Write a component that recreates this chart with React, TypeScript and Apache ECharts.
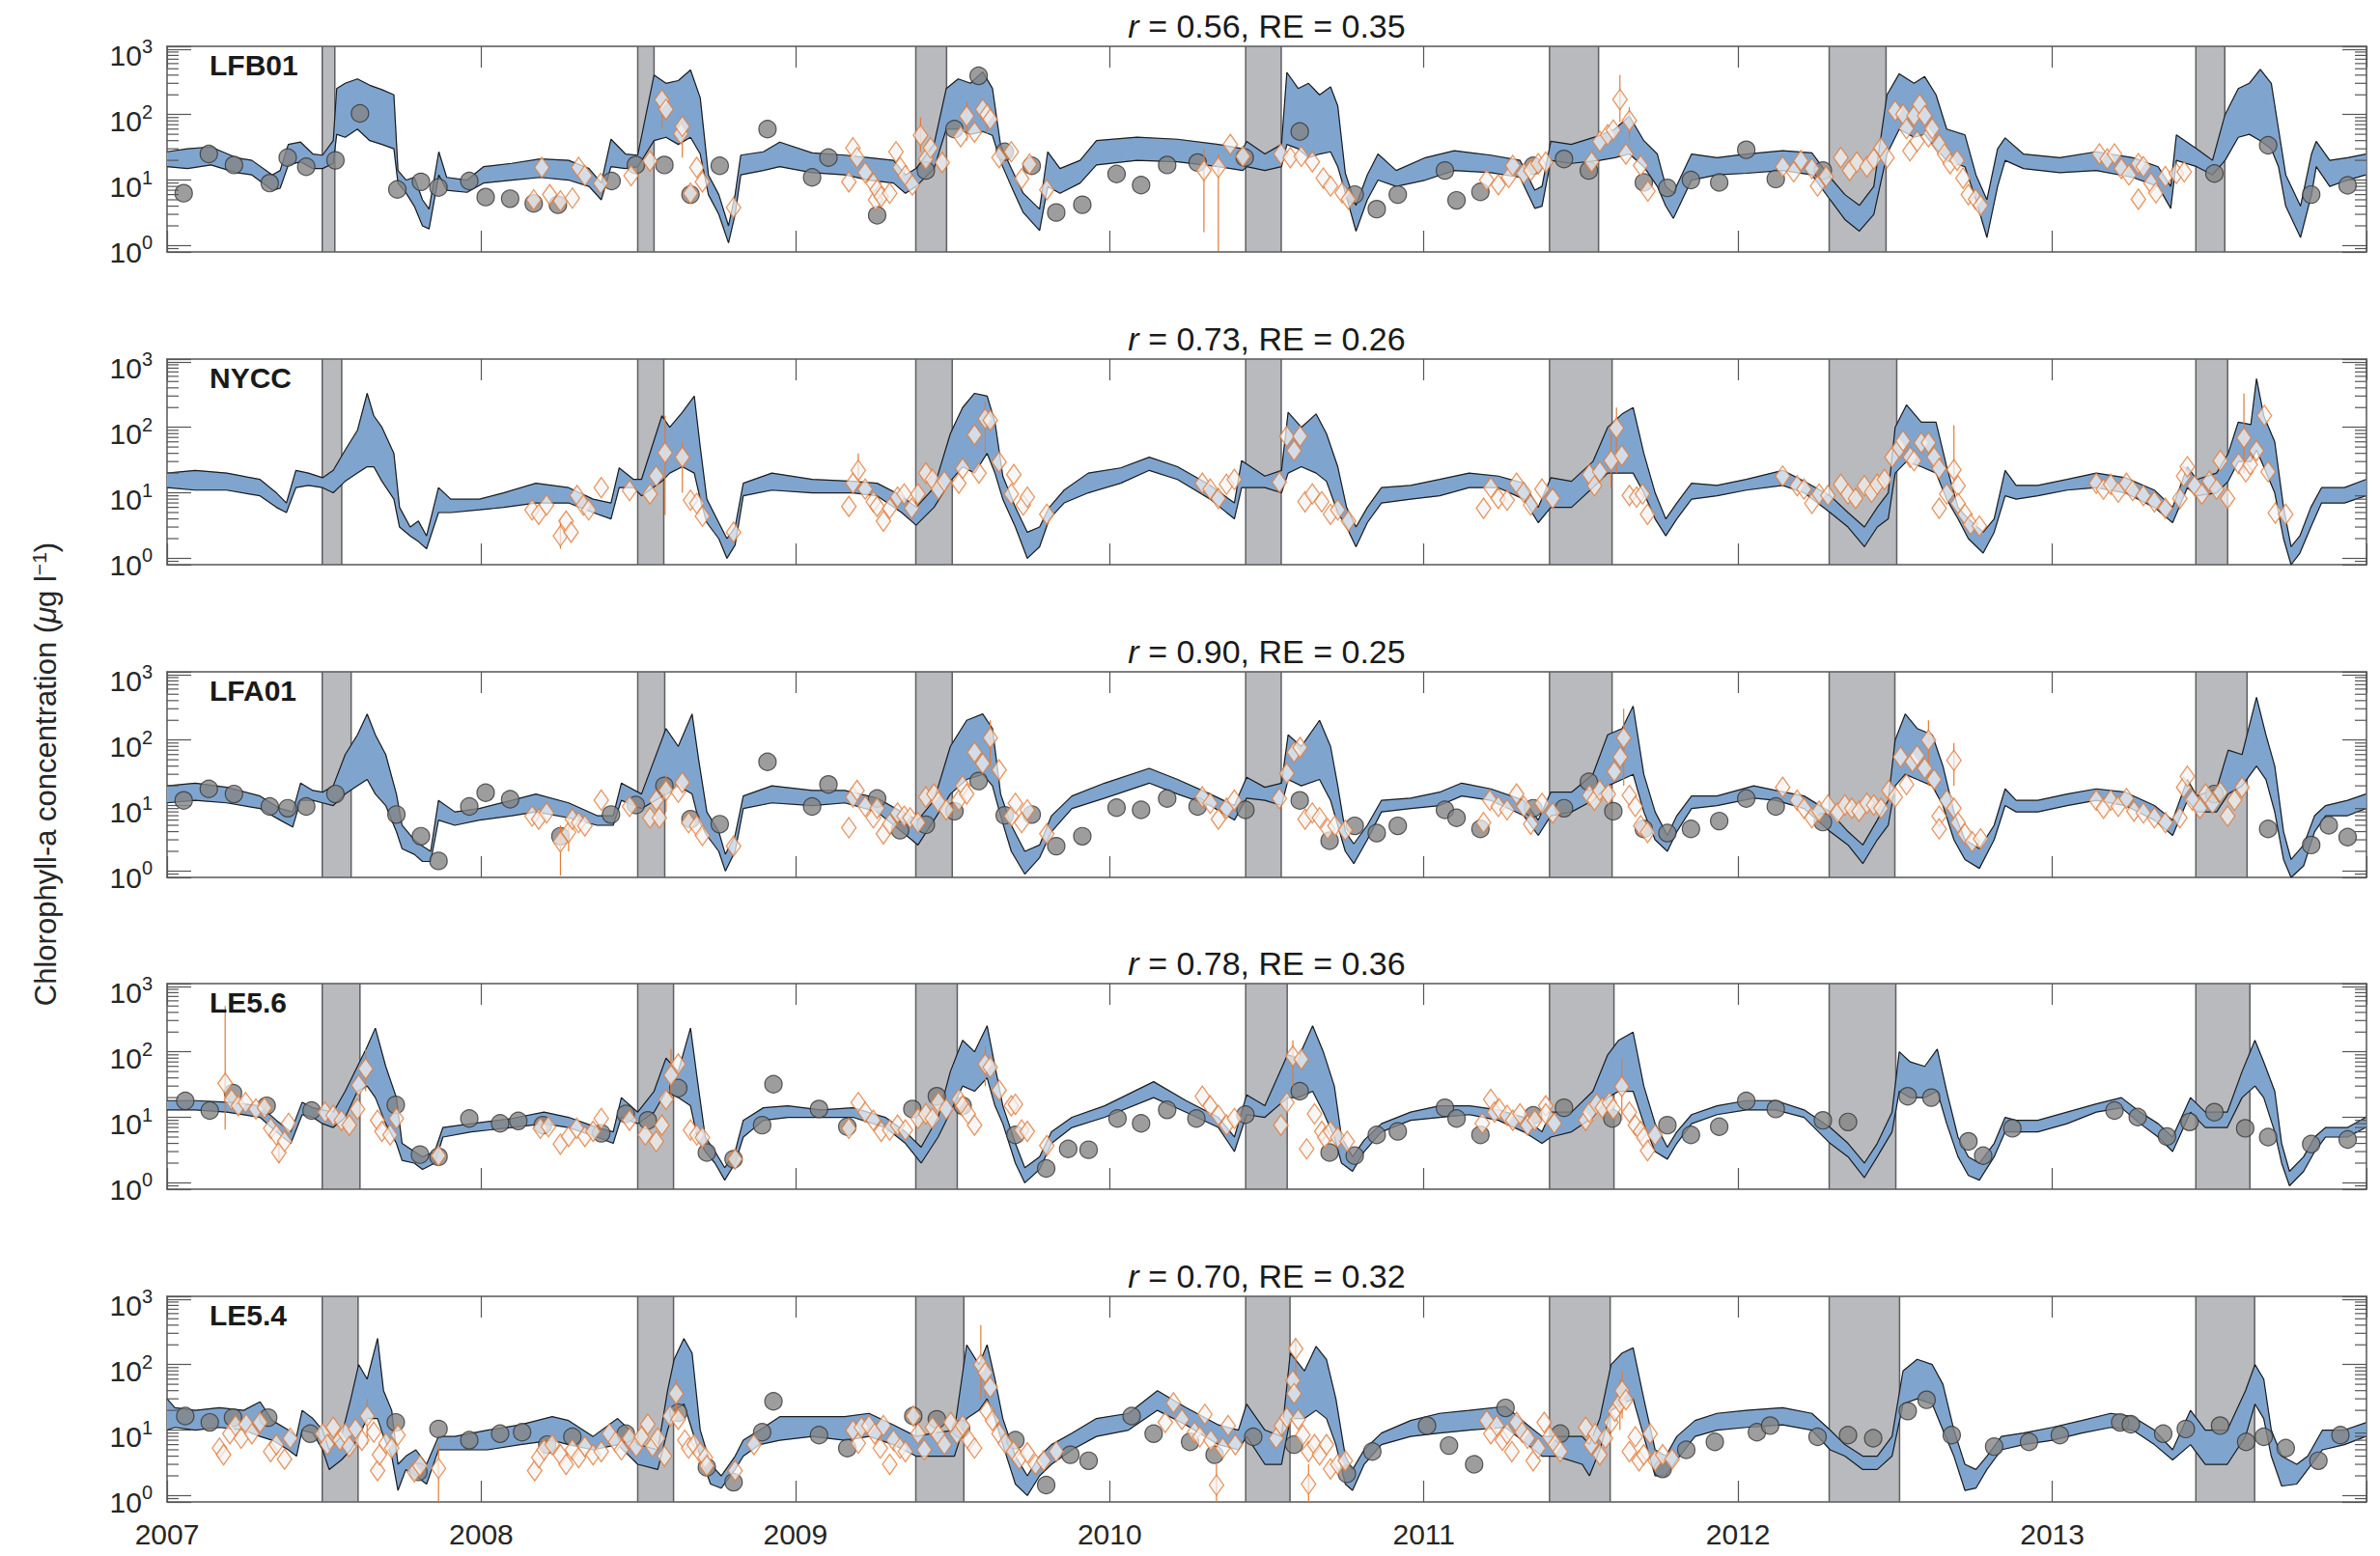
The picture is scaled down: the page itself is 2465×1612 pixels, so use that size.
import React, { useEffect, useRef } from 'react';
import * as echarts from 'echarts';

// ---------------- data ----------------
const YEAR_LABELS = [2007, 2008, 2009, 2010, 2011, 2012, 2013];
const MINOR_TICKS = [0.9, 2, 3, 4, 5, 6, 7, 8, 9, 20, 30, 40, 50, 60, 70, 80, 90, 200, 300, 400, 500, 600, 700, 800, 900];
const STATIONS = ['LFB01', 'NYCC', 'LFA01', 'LE5.6', 'LE5.4'];
const R_VALUES = ['0.56', '0.73', '0.90', '0.78', '0.70'];
const RE_VALUES = ['0.35', '0.26', '0.25', '0.36', '0.32'];

// shaded periods (decimal years)
const SHADE_START = [2007.494, 2008.498, 2009.383, 2010.433, 2011.4, 2012.29, 2013.457];
const SHADE_END_LFB01 = [2007.534, 2008.55, 2009.481, 2010.546, 2011.556, 2012.471, 2013.549];
const SHADE_END_NYCC = [2007.556, 2008.581, 2009.499, 2010.546, 2011.599, 2012.505, 2013.558];
const SHADE_END_LFA01 = [2007.586, 2008.584, 2009.499, 2010.546, 2011.599, 2012.499, 2013.62];
const SHADE_END_LE56 = [2007.614, 2008.612, 2009.515, 2010.565, 2011.605, 2012.502, 2013.629];
const SHADE_END_LE54 = [2007.608, 2008.612, 2009.536, 2010.574, 2011.593, 2012.514, 2013.644];

// model envelope [year, lower, upper]
const LFB01_BAND = [[2007.00,16,27],[2007.065,15,30],[2007.14,17,32],[2007.22,13,22],[2007.27,12,20],[2007.335,7,12],[2007.36,7.5,14],[2007.386,17,35],[2007.425,19,38],[2007.464,15,25],[2007.495,15,24],[2007.529,18,40],[2007.54,50,250],[2007.567,45,300],[2007.606,60,350],[2007.645,40,280],[2007.684,35,240],[2007.722,30,200],[2007.735,9,14],[2007.761,6.3,10],[2007.787,4,11],[2007.813,2,5],[2007.834,1.8,3.6],[2007.865,12,27],[2007.89,7,11],[2007.955,6.5,10],[2008.007,9,16],[2008.097,10,18],[2008.188,11,21],[2008.278,10,20],[2008.343,8,15],[2008.382,5,9],[2008.413,16,42],[2008.459,15,25],[2008.498,16,24],[2008.55,40,400],[2008.588,45,300],[2008.627,35,330],[2008.666,45,480],[2008.697,25,180],[2008.723,6,12],[2008.756,3,6],[2008.787,1.1,2],[2008.808,3,6],[2008.826,12,24],[2008.898,14,27],[2008.95,16,38],[2009.053,13,26],[2009.157,12,24],[2009.234,10,22],[2009.312,9,20],[2009.35,6.3,12],[2009.384,8,15],[2009.441,15,35],[2009.48,60,250],[2009.518,60,350],[2009.557,50,300],[2009.596,55,450],[2009.627,48,250],[2009.653,19,34],[2009.687,8,15],[2009.725,3.2,6.3],[2009.777,1.7,3.6],[2009.803,8,27],[2009.842,6.3,15],[2009.906,9,20],[2009.958,17,40],[2010.087,20,45],[2010.216,19,42],[2010.346,16,35],[2010.424,14,30],[2010.436,16,39],[2010.494,14,25],[2010.547,16,35],[2010.564,35,440],[2010.6,30,250],[2010.633,22,300],[2010.668,25,200],[2010.703,27,265],[2010.726,16,135],[2010.75,6.4,12.7],[2010.784,1.66,4.1],[2010.82,5,12],[2010.854,10,25],[2010.912,8,14],[2011.005,10,22],[2011.097,14,28],[2011.213,13,24],[2011.306,11,20],[2011.353,3.7,7],[2011.376,4,8],[2011.404,20,39],[2011.469,18,35],[2011.56,20,48],[2011.608,22,60],[2011.654,25,95],[2011.70,16,40],[2011.743,8,25],[2011.77,4,8],[2011.794,2.6,6.4],[2011.852,10,25],[2011.933,12,22],[2012.026,12.7,25],[2012.142,14,28],[2012.235,12,26],[2012.293,5,11],[2012.34,2.5,6],[2012.386,1.66,4.1],[2012.432,3,8],[2012.474,25,200],[2012.513,60,420],[2012.56,45,300],[2012.594,50,380],[2012.63,30,200],[2012.664,20,60],[2012.722,16,49],[2012.757,5,12],[2012.792,1.33,5],[2012.826,8,30],[2012.85,20,44],[2012.908,15,25],[2013.024,13,22],[2013.14,14,27],[2013.256,11,22],[2013.337,8,16],[2013.377,3.7,8],[2013.395,20,49],[2013.46,16,30],[2013.51,12,20],[2013.55,20,100],[2013.592,45,250],[2013.627,50,300],[2013.662,40,490],[2013.697,30,300],[2013.72,16,60],[2013.743,4,12],[2013.79,1.33,4],[2013.825,6,25],[2013.84,16,39],[2013.883,8,20],[2013.94,10,22],[2013.998,12,25]];
const NYCC_BAND = [[2007.0,12,20],[2007.09,11,22],[2007.19,11,20],[2007.296,9,16],[2007.348,6,10],[2007.38,5,7],[2007.41,12,22],[2007.45,13,20],[2007.495,12,17],[2007.529,10,22],[2007.567,15,45],[2007.606,20,90],[2007.637,25,330],[2007.658,25,150],[2007.684,15,100],[2007.722,8,40],[2007.74,3,6],[2007.774,2.2,3],[2007.8,1.8,3.7],[2007.826,1.4,2.2],[2007.864,5,12],[2007.903,5,8],[2007.994,5.5,8],[2008.071,6,10],[2008.174,7,14],[2008.278,7,12],[2008.356,5,8],[2008.413,4,7],[2008.439,12,24],[2008.485,12,16],[2008.51,9,16],[2008.575,15,150],[2008.6,20,100],[2008.64,25,170],[2008.678,20,300],[2008.697,8,50],[2008.718,3.5,8],[2008.756,2,3.5],[2008.782,1.0,2],[2008.808,1.6,3],[2008.834,9,14],[2008.925,11,20],[2009.054,10,16],[2009.183,10,15],[2009.26,9,14],[2009.338,5,9],[2009.384,3.2,6],[2009.441,6,12],[2009.493,15,80],[2009.532,25,200],[2009.57,20,330],[2009.61,40,300],[2009.635,20,120],[2009.66,8,18],[2009.70,3,6],[2009.738,1.0,2.5],[2009.777,1.5,3],[2009.808,4,6],[2009.855,7,11],[2009.932,10,20],[2010.035,14,24],[2010.126,22,35],[2010.216,16,25],[2010.32,8,13],[2010.397,4,7],[2010.42,12,31],[2010.494,12,18],[2010.547,10,22],[2010.568,20,170],[2010.61,25,100],[2010.657,20,160],[2010.69,15,80],[2010.726,5,25],[2010.754,3,6],[2010.784,1.5,3],[2010.82,3.5,6],[2010.865,7,12],[2010.958,8,13],[2011.05,9,16],[2011.144,12,20],[2011.237,12,18],[2011.318,8,14],[2011.364,3.5,6],[2011.404,6,17],[2011.47,6,15],[2011.538,12,30],[2011.585,20,100],[2011.631,20,160],[2011.666,20,200],[2011.70,10,40],[2011.736,4,10],[2011.77,2.2,4],[2011.805,4,7],[2011.852,8,14],[2011.933,9,13],[2012.026,11,16],[2012.142,13,22],[2012.21,10,15],[2012.293,5,9],[2012.35,3,5],[2012.402,1.5,3],[2012.443,3,6],[2012.478,4,10],[2012.50,20,100],[2012.536,30,220],[2012.583,25,120],[2012.63,20,120],[2012.664,8,25],[2012.70,4,6],[2012.733,2,4],[2012.78,1.2,2.5],[2012.815,2.5,4],[2012.85,9,22],[2012.885,8,13],[2012.954,9,13],[2013.047,11,16],[2013.14,12,20],[2013.232,10,17],[2013.325,6,11],[2013.383,3.5,6],[2013.43,12,25],[2013.46,9,16],[2013.523,10,20],[2013.56,15,40],[2013.592,30,120],[2013.632,30,110],[2013.65,45,550],[2013.673,25,150],[2013.708,10,60],[2013.736,2,6],[2013.76,0.8,1.5],[2013.788,1.2,2.2],[2013.823,3,6],[2013.857,7,12],[2013.93,7,12],[2013.998,9,16]];
const LFA01_BAND = [[2007.0,11,20],[2007.09,12,22],[2007.19,11,19],[2007.296,9,14],[2007.36,6,9],[2007.40,4.7,8],[2007.425,12,22],[2007.464,12,17],[2007.495,11,16],[2007.529,10,20],[2007.567,15,60],[2007.606,20,120],[2007.637,25,250],[2007.663,15,120],[2007.696,10,60],[2007.73,4,15],[2007.748,2.2,5],[2007.787,1.8,3],[2007.813,1.4,2.4],[2007.839,1.4,2.0],[2007.864,6,12],[2007.916,5,8],[2007.994,6,9],[2008.097,7,12],[2008.174,8,15],[2008.278,6.5,11],[2008.369,5,7],[2008.42,5,7],[2008.446,12,22],[2008.51,9,15],[2008.588,15,150],[2008.627,20,80],[2008.671,15,250],[2008.692,6,50],[2008.718,3.5,8],[2008.756,2,4],[2008.777,1.0,1.8],[2008.808,2,3.5],[2008.834,9,14],[2008.925,11,20],[2009.054,10,17],[2009.157,11,17],[2009.26,8,13],[2009.338,4,8],[2009.39,2.5,6],[2009.441,6,12],[2009.493,15,80],[2009.545,25,200],[2009.596,30,250],[2009.627,20,150],[2009.653,7,15],[2009.687,2,5],[2009.73,0.9,2],[2009.777,1.6,2.5],[2009.815,4,7],[2009.88,9,14],[2009.984,13,22],[2010.126,22,37],[2010.216,15,25],[2010.32,10,15],[2010.397,6,10],[2010.436,13,27],[2010.494,12,19],[2010.547,10,22],[2010.568,25,120],[2010.61,20,80],[2010.668,25,200],[2010.703,12,80],[2010.726,5,20],[2010.75,2,4],[2010.777,1.3,2.6],[2010.82,3,5],[2010.865,8,12],[2010.958,9,13],[2011.05,10,16],[2011.12,14,22],[2011.213,12,18],[2011.318,7,12],[2011.364,3.5,6],[2011.404,7,16],[2011.47,8,16],[2011.538,12,30],[2011.585,20,120],[2011.631,25,150],[2011.666,30,330],[2011.70,8,30],[2011.736,3,8],[2011.775,2.0,3.5],[2011.805,4,7],[2011.852,9,14],[2011.933,10,14],[2012.05,13,20],[2012.12,12,17],[2012.21,9,14],[2012.293,4,8],[2012.35,2.5,4],[2012.397,1.3,2.5],[2012.443,3,6],[2012.478,5,12],[2012.50,20,100],[2012.532,30,250],[2012.57,25,150],[2012.618,20,120],[2012.652,10,40],[2012.687,3,8],[2012.722,1.5,3],[2012.768,1.1,2.2],[2012.815,3,5],[2012.85,10,18],[2012.885,8,12],[2012.954,8,12],[2013.047,10,15],[2013.14,12,18],[2013.232,10,16],[2013.325,6,10],[2013.383,3.5,6],[2013.43,12,25],[2013.46,8,14],[2013.523,8,18],[2013.56,15,70],[2013.604,20,60],[2013.65,40,450],[2013.68,25,120],[2013.708,8,40],[2013.736,1.5,4],[2013.76,0.8,1.5],[2013.80,1.2,2.5],[2013.835,4,7],[2013.87,7,10],[2013.94,7,12],[2013.998,9,15]];
const LE56_BAND = [[2007.0,13,18],[2007.09,13,18],[2007.19,12,17],[2007.296,10,15],[2007.348,6,9],[2007.394,4,6],[2007.43,11,17],[2007.464,10,14],[2007.495,8,13],[2007.529,7,12],[2007.567,10,25],[2007.606,25,60],[2007.637,30,120],[2007.663,20,230],[2007.696,8,60],[2007.73,4,20],[2007.748,2.2,4],[2007.787,2,3],[2007.813,1.6,2.5],[2007.852,2,3],[2007.878,5,7],[2007.968,6,8],[2008.097,7,9.6],[2008.20,8,12],[2008.278,7,10],[2008.369,5,7],[2008.42,4,6],[2008.446,10,20],[2008.498,8,12],[2008.55,12,25],[2008.588,25,80],[2008.627,20,50],[2008.666,15,230],[2008.687,5,40],[2008.713,3,5],[2008.744,2,3],[2008.775,1.1,1.7],[2008.808,2,3],[2008.834,5,9],[2008.898,9,14],[2008.976,10,15],[2009.08,10,13],[2009.183,10,14],[2009.286,7,10],[2009.35,4,6],[2009.40,2,3.5],[2009.454,5,10],[2009.493,12,50],[2009.532,30,150],[2009.57,25,100],[2009.61,40,250],[2009.635,15,60],[2009.66,8,15],[2009.70,2,4],[2009.73,1.0,1.7],[2009.777,1.6,2.5],[2009.815,4,6],[2009.88,7,10],[2009.984,10,15],[2010.14,20,35],[2010.243,12,18],[2010.346,7,10],[2010.397,3,5],[2010.436,11,22],[2010.494,10,15],[2010.566,20,90],[2010.60,20,80],[2010.646,25,250],[2010.68,12,100],[2010.715,5,30],[2010.738,2,5],[2010.773,1.5,2.5],[2010.81,3,4.5],[2010.865,6,8],[2010.958,9,12],[2011.05,10,15],[2011.144,11,15],[2011.237,9,13],[2011.318,6,10],[2011.376,4,6],[2011.404,5,12],[2011.47,6,12],[2011.538,10,25],[2011.585,20,90],[2011.62,25,150],[2011.666,25,200],[2011.70,8,30],[2011.736,3,8],[2011.775,2.3,3.5],[2011.805,4,6],[2011.852,8,11],[2011.933,11,15],[2012.026,13,18],[2012.12,13,18],[2012.21,10,13],[2012.293,4,7],[2012.35,2.5,4],[2012.402,1.2,2],[2012.443,2.5,4],[2012.49,6,12],[2012.513,25,100],[2012.548,20,70],[2012.594,20,60],[2012.634,25,110],[2012.664,8,25],[2012.70,2.5,5],[2012.733,1.3,2.5],[2012.768,1.1,2],[2012.815,2.5,4],[2012.85,6,10],[2012.885,6,9],[2012.954,6,9],[2013.047,8,12],[2013.14,12,16],[2013.22,14,20],[2013.28,8,12],[2013.337,5,8],[2013.383,3,5],[2013.44,12,20],[2013.487,7,12],[2013.557,7,12],[2013.604,20,50],[2013.645,30,150],[2013.673,20,70],[2013.708,6,25],[2013.73,2,4],[2013.755,0.9,1.5],[2013.80,1.5,2.5],[2013.835,3,5],[2013.87,5,7],[2013.94,5,7],[2013.998,7,10]];
const LE54_BAND = [[2007.0,10,30],[2007.025,11,22],[2007.09,10,20],[2007.167,11,22],[2007.244,10,20],[2007.296,8,27],[2007.335,7,14],[2007.386,5,10],[2007.412,4,8],[2007.43,10,20],[2007.464,9,15],[2007.495,5,10],[2007.516,2.5,5],[2007.555,3.5,8],[2007.585,5,30],[2007.61,8,100],[2007.637,15,60],[2007.67,15,250],[2007.689,8,40],[2007.715,4,20],[2007.735,1.2,3],[2007.76,2.5,4],[2007.792,2,5],[2007.826,1.5,3],[2007.864,5,8],[2007.916,5,8],[2008.02,5,10],[2008.124,6,12],[2008.226,7,16],[2008.278,6,14],[2008.356,5,8],[2008.434,6,15],[2008.472,4,10],[2008.498,3,6],[2008.562,2.5,5],[2008.593,10,40],[2008.614,20,120],[2008.645,25,250],[2008.671,10,150],[2008.697,4,10],[2008.73,1.5,3],[2008.764,1.3,2],[2008.808,2.5,4],[2008.834,4,7],[2008.886,6,10],[2008.95,7,16],[2009.054,8,16],[2009.157,7,16],[2009.234,8,18],[2009.312,6,12],[2009.384,4,8],[2009.441,4,9],[2009.506,4,10],[2009.545,15,200],[2009.584,20,100],[2009.61,30,200],[2009.635,15,60],[2009.66,6,15],[2009.70,1.5,4],[2009.738,1.0,2],[2009.777,2,4],[2009.815,3,6],[2009.88,5,9],[2009.958,8,15],[2010.06,10,18],[2010.152,20,40],[2010.243,12,22],[2010.346,6,12],[2010.41,5,10],[2010.436,8,25],[2010.494,3,10],[2010.547,3,8],[2010.575,15,150],[2010.62,15,80],[2010.657,20,190],[2010.69,15,120],[2010.72,6,30],[2010.75,1.5,4],[2010.773,1.2,2.5],[2010.81,3,5],[2010.865,6,9],[2010.958,8,14],[2011.05,9,18],[2011.144,10,20],[2011.26,11,23],[2011.33,6,12],[2011.376,4,8],[2011.422,4,8],[2011.504,3,8],[2011.527,2,6],[2011.56,5,15],[2011.596,20,100],[2011.631,25,150],[2011.666,30,180],[2011.70,8,30],[2011.736,2,5],[2011.77,2,4],[2011.805,3.5,8],[2011.863,8,14],[2011.933,10,18],[2012.026,11,20],[2012.142,12,22],[2012.235,10,18],[2012.293,5,10],[2012.34,4,6],[2012.397,2.5,4],[2012.443,2.5,4],[2012.49,4,8],[2012.525,25,80],[2012.57,30,120],[2012.618,25,100],[2012.652,10,50],[2012.687,4,10],[2012.722,1.2,3],[2012.757,1.3,2.5],[2012.792,2.5,4],[2012.838,5,8],[2012.908,6,9],[2013.0,7,11],[2013.094,9,14],[2013.186,11,18],[2013.256,10,16],[2013.325,6,10],[2013.383,3.5,5],[2013.44,6,20],[2013.487,3,10],[2013.557,3,10],[2013.615,8,40],[2013.645,25,100],[2013.673,15,60],[2013.697,4,10],[2013.73,1.4,4],[2013.778,1.5,3],[2013.813,2.5,4],[2013.86,5,10],[2013.93,6,10],[2013.998,8,13]];

// in-situ samples (grey circles) [year, value]
const LFB01_CIRCLES = [[2007.053,6.3],[2007.133,25],[2007.213,17],[2007.327,9],[2007.384,22],[2007.443,16],[2007.536,20],[2007.614,104],[2007.733,7.2],[2007.808,9.4],[2007.864,7.7],[2007.962,9.7],[2008.014,5.5],[2008.092,5.2],[2008.167,4.4],[2008.244,4.2],[2008.415,9.7],[2008.492,17],[2008.583,17],[2008.666,6],[2008.759,16.5],[2008.911,60],[2009.053,11],[2009.105,22],[2009.26,2.9],[2009.415,14],[2009.506,60],[2009.583,390],[2009.666,27],[2009.752,16.5],[2009.83,3.2],[2009.913,4.2],[2010.022,12.4],[2010.10,8.4],[2010.183,17],[2010.28,18.5],[2010.43,22],[2010.605,55],[2010.78,6],[2010.85,3.6],[2010.917,6],[2011.067,14],[2011.104,4.9],[2011.18,6.6],[2011.348,16.5],[2011.446,21],[2011.525,14],[2011.70,9.2],[2011.775,7.6],[2011.85,10],[2011.94,9.2],[2012.026,29],[2012.12,10.4],[2012.27,14],[2013.516,12.6],[2013.687,34],[2013.824,6],[2013.94,8.3]];
const NYCC_CIRCLES: number[][] = [];
const LFA01_CIRCLES = [[2007.053,12],[2007.133,18],[2007.213,15],[2007.327,9.7],[2007.384,9.1],[2007.443,9.7],[2007.536,15],[2007.73,7.3],[2007.808,3.4],[2007.864,1.43],[2007.962,9.7],[2008.014,15.7],[2008.092,12.5],[2008.252,3.4],[2008.413,7.3],[2008.492,10.2],[2008.583,20],[2008.666,6.2],[2008.759,5.2],[2008.911,46.5],[2009.053,9.7],[2009.105,21],[2009.26,12.8],[2009.333,4.2],[2009.415,5.1],[2009.506,8.2],[2009.583,23.7],[2009.666,7.1],[2009.752,7.3],[2009.83,2.4],[2009.913,3.4],[2010.022,9.3],[2010.10,8.6],[2010.183,12.8],[2010.28,9.7],[2010.432,8.6],[2010.605,12],[2010.70,2.9],[2010.78,4.9],[2010.85,3.8],[2010.917,4.9],[2011.067,8.6],[2011.104,6.5],[2011.18,4.4],[2011.348,9.1],[2011.446,9.1],[2011.525,23],[2011.603,8.2],[2011.70,4.4],[2011.775,3.8],[2011.85,4.4],[2011.94,5.8],[2012.026,12.8],[2012.12,9.7],[2012.27,5.6],[2013.516,15],[2013.687,4.4],[2013.824,2.5],[2013.88,5.0],[2013.94,3.3]];
const LE56_CIRCLES = [[2007.058,17.8],[2007.136,12.7],[2007.21,23.5],[2007.317,15],[2007.46,12.7],[2007.728,15.5],[2007.805,2.7],[2007.864,2.5],[2007.962,9.6],[2008.06,8.1],[2008.118,8.8],[2008.196,7.6],[2008.382,5.7],[2008.46,11.3],[2008.53,9],[2008.627,28],[2008.718,2.9],[2008.803,2.3],[2008.894,7.6],[2008.93,32],[2009.075,13.4],[2009.165,7.2],[2009.372,13.4],[2009.45,21],[2009.532,15],[2009.70,5.4],[2009.798,1.66],[2009.868,3.3],[2009.933,3.2],[2010.025,9.6],[2010.10,8.1],[2010.183,13],[2010.276,9.6],[2010.432,11],[2010.605,25],[2010.70,2.9],[2010.78,2.6],[2010.85,5.4],[2010.917,6.1],[2011.067,14],[2011.104,9.6],[2011.18,5.4],[2011.348,10.7],[2011.446,14],[2011.60,9.6],[2011.775,7.6],[2011.85,5.4],[2011.94,7.2],[2012.026,17.8],[2012.12,13.4],[2012.27,9],[2012.35,8.5],[2012.54,21],[2012.615,20],[2012.733,4.3],[2012.78,2.6],[2012.873,6.8],[2013.198,12.7],[2013.272,10.1],[2013.365,5.1],[2013.437,8.5],[2013.516,12],[2013.614,6.8],[2013.687,5],[2013.824,3.9],[2013.94,4.6]];
const LE54_CIRCLES = [[2007.058,16.4],[2007.136,13.1],[2007.21,15.5],[2007.322,15.5],[2007.456,8.8],[2007.728,13.1],[2007.80,2.3],[2007.864,10.4],[2007.962,7],[2008.06,8.8],[2008.13,9.3],[2008.21,6],[2008.29,7.9],[2008.46,8.8],[2008.627,18.4],[2008.718,2.7],[2008.803,1.6],[2008.894,9.3],[2008.93,27.5],[2009.075,8.4],[2009.165,5.3],[2009.375,16.4],[2009.45,14.6],[2009.527,10.4],[2009.70,7],[2009.798,1.45],[2009.875,4.2],[2009.933,3.4],[2010.07,16.4],[2010.14,8.8],[2010.256,6.6],[2010.334,4.2],[2010.457,7.9],[2010.587,6],[2010.755,2.15],[2010.836,4.7],[2011.01,11.7],[2011.08,5.8],[2011.16,3.0],[2011.26,21.8],[2011.434,8.8],[2011.76,2.55],[2011.835,5],[2011.926,6.6],[2012.06,9.3],[2012.102,11.7],[2012.253,7.9],[2012.35,8.4],[2012.43,7.5],[2012.54,19.5],[2012.60,29],[2012.68,8.4],[2012.815,5.6],[2012.926,6.6],[2013.024,8.4],[2013.216,13.1],[2013.25,12.3],[2013.353,8.8],[2013.425,10.4],[2013.534,11.7],[2013.617,6.6],[2013.673,7.9],[2013.743,5.3],[2013.847,3.4],[2013.917,8.4]];

// satellite retrievals (orange diamonds) [year, value]
const LFB01_DIAMONDS = [[2008.167,5],[2008.193,15.6],[2008.218,6],[2008.252,4.8],[2008.29,5.3],[2008.31,15.6],[2008.33,11.7],[2008.38,8.9],[2008.477,11.7],[2008.537,19.5],[2008.575,167],[2008.588,120],[2008.635,51],[2008.64,66],[2008.666,6.3],[2008.686,15.6],[2008.704,9.4],[2008.803,3.8],[2009.17,9.4],[2009.183,31],[2009.196,22],[2009.222,13],[2009.248,8.9],[2009.255,5],[2009.26,7.1],[2009.273,5.6],[2009.30,6.3],[2009.32,27],[2009.333,15.6],[2009.35,11.7],[2009.372,8.4],[2009.398,48],[2009.415,21],[2009.43,31],[2009.467,18.5],[2009.526,46],[2009.545,95],[2009.57,54],[2009.596,120],[2009.61,100],[2009.62,85],[2009.648,22],[2009.687,27],[2009.72,10.5],[2009.745,17.5],[2009.80,7.1],[2010.30,14],[2010.346,15.6],[2010.384,35],[2010.424,23],[2010.545,25],[2010.575,22],[2010.61,23],[2010.645,19],[2010.68,10.7],[2010.703,8.1],[2010.74,6.4],[2010.76,5.1],[2011.20,10],[2011.237,8.5],[2011.27,11],[2011.283,16.7],[2011.318,12.6],[2011.34,14],[2011.364,17.8],[2011.388,18.8],[2011.534,19],[2011.56,39],[2011.585,49],[2011.603,58],[2011.624,170],[2011.643,25],[2011.654,81],[2011.69,16.7],[2011.713,6.8],[2012.142,16],[2012.177,13.4],[2012.20,19.8],[2012.235,15],[2012.253,8.1],[2012.28,11.3],[2012.327,22],[2012.355,14],[2012.378,18.8],[2012.41,16],[2012.432,21],[2012.455,31],[2012.474,22],[2012.50,114],[2012.525,101],[2012.536,61],[2012.547,28],[2012.56,96],[2012.57,39],[2012.578,143],[2012.594,96],[2012.606,46],[2012.618,61],[2012.64,35],[2012.657,25],[2012.675,17.8],[2012.697,20],[2012.716,10.7],[2012.733,6],[2012.756,5.1],[2012.772,4.1],[2013.15,25],[2013.175,21],[2013.198,25],[2013.22,15],[2013.244,12],[2013.274,17.8],[2013.274,5.1],[2013.29,16],[2013.314,9],[2013.33,6.4],[2013.36,11.3],[2013.395,12.6],[2013.42,13.4]];
const NYCC_DIAMONDS = [[2008.162,5.5],[2008.183,4.7],[2008.208,6.5],[2008.252,2.2],[2008.27,3.7],[2008.286,2.5],[2008.305,9.1],[2008.325,6.5],[2008.342,5.5],[2008.382,12],[2008.472,10.8],[2008.537,9.6],[2008.557,18],[2008.585,41],[2008.64,35],[2008.666,7.7],[2008.686,6.9],[2008.704,4.4],[2008.803,2.5],[2009.17,6.2],[2009.183,14],[2009.20,22],[2009.222,11.4],[2009.248,7.3],[2009.26,6.2],[2009.28,3.7],[2009.30,5.8],[2009.325,8.6],[2009.346,9.6],[2009.37,5.8],[2009.39,9.6],[2009.415,20],[2009.436,16],[2009.455,11.4],[2009.474,15],[2009.52,14],[2009.532,23.5],[2009.57,77],[2009.584,20],[2009.604,135],[2009.62,128],[2009.648,29.5],[2009.687,9.6],[2009.695,19],[2009.725,6.5],[2009.738,8.6],[2009.80,4.7],[2010.295,14],[2010.32,11.4],[2010.346,8.2],[2010.372,13.5],[2010.397,16],[2010.54,14.5],[2010.564,73],[2010.587,44],[2010.606,73],[2010.622,7.3],[2010.645,9.6],[2010.675,7.3],[2010.703,4.7],[2010.726,5.5],[2010.76,3.7],[2011.19,5.8],[2011.213,12],[2011.237,8.2],[2011.265,7.7],[2011.295,14],[2011.318,10.2],[2011.34,6.5],[2011.376,11.4],[2011.41,8.2],[2011.527,19],[2011.543,12.8],[2011.56,21],[2011.596,31],[2011.613,97],[2011.63,37],[2011.654,9.1],[2011.677,8.6],[2011.696,9.6],[2011.712,4.7],[2012.142,18],[2012.188,12.8],[2012.21,11.4],[2012.235,6.9],[2012.258,9.6],[2012.286,9.1],[2012.327,13.5],[2012.35,9.6],[2012.374,8.2],[2012.402,12.8],[2012.425,10.2],[2012.443,13.5],[2012.466,16],[2012.49,35],[2012.513,49],[2012.525,62],[2012.548,35],[2012.56,31],[2012.583,58],[2012.606,58],[2012.624,35],[2012.64,23.5],[2012.64,5.8],[2012.664,9.6],[2012.687,22.5],[2012.70,12.8],[2012.70,6.9],[2012.722,4.7],[2012.74,3.3],[2012.768,3.1],[2013.14,14],[2013.163,11.4],[2013.186,13.5],[2013.21,10.2],[2013.236,14],[2013.256,10.8],[2013.29,9.1],[2013.325,7.3],[2013.36,5.8],[2013.406,8.2],[2013.418,18],[2013.43,25],[2013.453,12.8],[2013.476,9.6],[2013.50,15],[2013.523,11.4],[2013.535,31],[2013.558,8.2],[2013.593,28],[2013.61,69],[2013.616,21],[2013.63,27],[2013.65,44],[2013.675,151],[2013.687,21],[2013.71,4.9],[2013.743,4.7]];
const LFA01_DIAMONDS = [[2008.162,6.9],[2008.183,6.2],[2008.208,7.7],[2008.252,2.8],[2008.278,3.9],[2008.29,6.2],[2008.31,5.5],[2008.33,4.9],[2008.382,12.1],[2008.472,9.7],[2008.537,6.5],[2008.557,12.1],[2008.567,6.5],[2008.588,17],[2008.627,16],[2008.64,22.5],[2008.66,5.5],[2008.686,4.9],[2008.704,3.5],[2008.803,2.4],[2009.17,4.6],[2009.183,13.5],[2009.196,17],[2009.222,9.7],[2009.248,6.5],[2009.26,9.1],[2009.28,3.7],[2009.30,5.2],[2009.325,7.7],[2009.346,6.9],[2009.365,6.5],[2009.39,5.5],[2009.415,13.5],[2009.441,15],[2009.455,11.4],[2009.48,8.6],[2009.52,12.1],[2009.532,20],[2009.545,15],[2009.57,65],[2009.596,44],[2009.62,108],[2009.648,35],[2009.687,6.9],[2009.70,10.8],[2009.72,5.5],[2009.738,8.6],[2009.80,3.7],[2010.295,13.5],[2010.32,10.8],[2010.346,6.2],[2010.372,9.1],[2010.397,12.1],[2010.54,12.8],[2010.564,31],[2010.587,65],[2010.606,77],[2010.622,6.2],[2010.645,7.7],[2010.668,6.5],[2010.694,4.4],[2010.717,4.9],[2010.75,4.2],[2011.19,5.5],[2011.21,12.1],[2011.237,9.7],[2011.265,8.6],[2011.295,15],[2011.318,9.7],[2011.34,5.2],[2011.376,10.8],[2011.41,7.7],[2011.527,14.3],[2011.543,12.1],[2011.56,17],[2011.587,15],[2011.606,33],[2011.625,55],[2011.636,108],[2011.654,14.3],[2011.673,9.7],[2011.69,4.9],[2011.712,3.9],[2012.142,19],[2012.188,12.1],[2012.21,9.1],[2012.235,6.5],[2012.258,8.2],[2012.286,10.2],[2012.316,7.7],[2012.34,10.2],[2012.362,9.1],[2012.385,8.2],[2012.41,10.8],[2012.432,10.2],[2012.455,9.1],[2012.48,17],[2012.50,13.5],[2012.517,55],[2012.536,21],[2012.555,46.5],[2012.57,58],[2012.594,37],[2012.606,100],[2012.624,25],[2012.64,6.9],[2012.64,4.4],[2012.664,12.1],[2012.687,49],[2012.687,9.1],[2012.70,5.5],[2012.722,3.7],[2012.745,2.8],[2012.772,3.1],[2013.14,12.1],[2013.163,9.1],[2013.186,12.1],[2013.21,9.7],[2013.236,12.8],[2013.26,8.2],[2013.29,7.7],[2013.325,6.5],[2013.36,5.5],[2013.406,6.5],[2013.418,19],[2013.43,28],[2013.446,12.1],[2013.47,9.1],[2013.488,15],[2013.51,10.8],[2013.535,16],[2013.558,6.9],[2013.58,12.1],[2013.604,19]];
const LE56_DIAMONDS = [[2007.185,33],[2007.205,18.8],[2007.227,15],[2007.25,16.8],[2007.283,13.4],[2007.31,14],[2007.33,6.8],[2007.348,5.4],[2007.356,2.9],[2007.374,4.3],[2007.387,8.1],[2007.503,12],[2007.529,10.7],[2007.555,9],[2007.58,7.6],[2007.606,13.4],[2007.61,31],[2007.632,55],[2007.67,9],[2007.684,6.1],[2007.71,5.4],[2007.73,9.6],[2007.864,2.6],[2008.188,6.8],[2008.214,7.2],[2008.252,3.9],[2008.278,5.1],[2008.304,6.8],[2008.33,5.1],[2008.356,6.1],[2008.382,9.6],[2008.472,9],[2008.522,5.4],[2008.557,4.3],[2008.575,7.6],[2008.588,18.8],[2008.604,44],[2008.627,65],[2008.666,6.4],[2008.686,5.4],[2008.704,4.9],[2008.808,2.3],[2009.17,6.8],[2009.20,16.8],[2009.222,12],[2009.248,9],[2009.273,6.1],[2009.30,6.4],[2009.325,7.6],[2009.35,6.4],[2009.39,9.6],[2009.415,11.3],[2009.436,9.6],[2009.455,16.8],[2009.48,13.4],[2009.52,18.8],[2009.532,15],[2009.55,11.3],[2009.57,7.6],[2009.604,65],[2009.62,58],[2009.648,26],[2009.687,15],[2009.70,15.8],[2009.72,6.4],[2009.738,6.1],[2009.80,3.7],[2010.295,21],[2010.32,15],[2010.346,10.7],[2010.372,7.6],[2010.397,9.6],[2010.545,7.6],[2010.564,16.8],[2010.583,86],[2010.61,77],[2010.627,3.3],[2010.652,11.3],[2010.675,6.1],[2010.685,4.9],[2010.703,6.1],[2010.726,4.9],[2010.756,4.3],[2011.186,8.1],[2011.213,18.8],[2011.225,12],[2011.24,13.4],[2011.265,10.7],[2011.283,9],[2011.306,11.3],[2011.33,7.6],[2011.353,9],[2011.388,15],[2011.388,11.3],[2011.415,8.1],[2011.515,9],[2011.527,12],[2011.55,16],[2011.568,14],[2011.59,16.8],[2011.603,13.4],[2011.63,29.5],[2011.654,12],[2011.673,7.6],[2011.69,6.1],[2011.70,4.9],[2011.712,3.1],[2011.736,5.4]];
const LE54_DIAMONDS = [[2007.167,5.3],[2007.18,4.2],[2007.20,8.8],[2007.218,11.7],[2007.236,7.5],[2007.252,12.3],[2007.27,8.8],[2007.296,13.1],[2007.33,4.7],[2007.348,6],[2007.374,3.6],[2007.392,7.5],[2007.495,8.8],[2007.51,6],[2007.529,11],[2007.55,7],[2007.567,8.8],[2007.58,5.6],[2007.60,10.4],[2007.62,7],[2007.637,16.4],[2007.658,9.3],[2007.67,2.4],[2007.676,4.2],[2007.697,6.3],[2007.715,5.3],[2007.735,8.4],[2007.787,2.3],[2007.805,2.85],[2007.864,2.6],[2008.17,2.4],[2008.183,3.8],[2008.20,5],[2008.226,6],[2008.252,4.2],[2008.27,3],[2008.29,5],[2008.31,3.8],[2008.33,5.6],[2008.356,4.2],[2008.382,4.7],[2008.408,8.8],[2008.428,6.6],[2008.446,5],[2008.472,7.5],[2008.493,5.6],[2008.51,7.9],[2008.53,12.3],[2008.545,5.6],[2008.562,7.5],[2008.583,4],[2008.601,16.4],[2008.62,36],[2008.627,14.6],[2008.648,7],[2008.66,5.3],[2008.678,6],[2008.697,4.5],[2008.713,3.8],[2008.718,2.85],[2008.808,2.4],[2008.868,6],[2009.183,9.9],[2009.20,6.3],[2009.21,11],[2009.234,11.7],[2009.252,8.8],[2009.27,5.3],[2009.28,11.7],[2009.30,3],[2009.312,7],[2009.333,5.3],[2009.35,4.7],[2009.375,16.4],[2009.39,8.8],[2009.41,5],[2009.436,11],[2009.455,8.4],[2009.474,6],[2009.494,13.1],[2009.514,8.8],[2009.532,11.7],[2009.552,7],[2009.57,5.3],[2009.59,100],[2009.604,75],[2009.61,19.5],[2009.62,45],[2009.627,14],[2009.648,8.8],[2009.668,6.3],[2009.694,4.7],[2009.712,3.6],[2009.738,4.5],[2009.764,3],[2009.79,3.4],[2009.83,4.7],[2010.177,13.1],[2010.203,26],[2010.23,14.6],[2010.27,9.3],[2010.287,7.9],[2010.303,17.4],[2010.322,7],[2010.34,1.45],[2010.36,5.3],[2010.377,11.7],[2010.40,6],[2010.53,7.5],[2010.547,11.7],[2010.564,15.5],[2010.583,57],[2010.587,36],[2010.592,175],[2010.60,14.6],[2010.615,8.4],[2010.633,4.7],[2010.633,1.5],[2010.652,6],[2010.668,4.2],[2010.69,6],[2010.703,2.55],[2010.726,3],[2010.75,3.4],[2011.20,14],[2011.213,8.8],[2011.232,11.7],[2011.25,7],[2011.265,8.8],[2011.28,4.7],[2011.295,13.1],[2011.313,9.3],[2011.33,7.5],[2011.348,3.4],[2011.364,5.3],[2011.383,13.1],[2011.40,7.9],[2011.418,6],[2011.434,4.7],[2011.515,11],[2011.532,6],[2011.545,8.8],[2011.56,4.2],[2011.578,7.5],[2011.596,13.1],[2011.608,19.5],[2011.624,26],[2011.631,40],[2011.643,29],[2011.654,4.7],[2011.673,7.9],[2011.685,3.4],[2011.70,4.2],[2011.72,8.8],[2011.736,3.4],[2011.76,4.2],[2011.79,3.6]];

// error bars of the retrievals [year, low, high]
const LFB01_ERR = [[2008.575,60,240],[2008.64,22,85],[2009.398,27,90],[2009.545,40,160],[2009.61,50,150],[2010.30,1.6,30],[2010.346,0.83,25],[2011.624,77,400],[2011.654,40,130]];
const NYCC_ERR = [[2008.585,4.6,150],[2008.252,1.4,4],[2008.64,10,60],[2009.2,12,40],[2009.604,40,250],[2011.596,12,80],[2011.613,20,200],[2012.687,11,108],[2013.61,20,330]];
const LFA01_ERR = [[2008.252,0.85,5],[2008.278,2,7],[2008.588,8,30],[2009.62,40,200],[2011.636,20,300],[2012.606,20,200],[2012.687,20,90]];
const LE56_ERR = [[2007.185,6.5,500],[2007.356,2.0,4.5],[2007.632,25,110],[2008.604,20,110],[2009.604,30,120],[2010.583,30,150],[2011.63,9,80]];
const LE54_ERR = [[2007.637,6,30],[2007.864,0.8,6],[2008.62,15,60],[2009.59,30,400],[2009.604,30,150],[2010.34,0.8,3],[2010.592,50,250],[2010.633,0.8,3],[2011.624,10,60],[2011.631,15,80]];

const PANELS = [
  { band: LFB01_BAND, circles: LFB01_CIRCLES, diamonds: LFB01_DIAMONDS, err: LFB01_ERR, shadeEnd: SHADE_END_LFB01 },
  { band: NYCC_BAND, circles: NYCC_CIRCLES, diamonds: NYCC_DIAMONDS, err: NYCC_ERR, shadeEnd: SHADE_END_NYCC },
  { band: LFA01_BAND, circles: LFA01_CIRCLES, diamonds: LFA01_DIAMONDS, err: LFA01_ERR, shadeEnd: SHADE_END_LFA01 },
  { band: LE56_BAND, circles: LE56_CIRCLES, diamonds: LE56_DIAMONDS, err: LE56_ERR, shadeEnd: SHADE_END_LE56 },
  { band: LE54_BAND, circles: LE54_CIRCLES, diamonds: LE54_DIAMONDS, err: LE54_ERR, shadeEnd: SHADE_END_LE54 },
];

// ---------------- layout & style ----------------
const W = 2465;
const H = 1612;
const X_MIN = 2007;
const X_MAX = 2014;
const Y_MIN = 0.8;
const Y_MAX = 1100;
const LEFT = 173;
const PLOT_W = 2278;
const PANEL_TOP = [48, 372, 696, 1019, 1343];
const PANEL_H = 213;
const FONT = '"Liberation Sans", Arial, Helvetica, sans-serif';
const TXT = '#262626';
const FRAME = '#555555';
const BLUE = '#7fa5cf';
const EDGE = '#1c1c1c';
const SHADE = '#b9babe';
const SHADE_EDGE = '#5e5f62';
const ORANGE = '#e27a36';

function buildOption() {
  const grid: any[] = [];
  const xAxis: any[] = [];
  const yAxis: any[] = [];
  const series: any[] = [];
  const graphic: any[] = [];

  PANELS.forEach((p, i) => {
    const top = PANEL_TOP[i];
    grid.push({ left: LEFT, top, width: PLOT_W, height: PANEL_H, containLabel: false, outerBoundsMode: 'none', show: false });

    const axisLine = { show: true, onZero: false, lineStyle: { color: FRAME, width: 1.5 } };
    const xBase = {
      type: 'value', gridIndex: i, min: X_MIN, max: X_MAX, interval: 1,
      splitLine: { show: false }, axisLine,
      axisTick: { show: true, inside: true, length: 22, lineStyle: { color: FRAME, width: 1.2 } },
    };
    xAxis.push({
      ...xBase, position: 'bottom',
      axisLabel: {
        show: i === PANELS.length - 1, margin: 18, fontSize: 30, fontFamily: FONT, color: TXT,
        formatter: (v: number) => {
          const r = Math.round(v);
          return Math.abs(v - r) < 1e-6 && YEAR_LABELS.indexOf(r) >= 0 ? String(r) : '';
        },
      },
    });
    xAxis.push({ ...xBase, position: 'top', axisLabel: { show: false } });

    const yBase = {
      type: 'log', logBase: 10, gridIndex: i, min: Y_MIN, max: Y_MAX,
      splitLine: { show: false }, axisLine,
      axisTick: { show: true, inside: true, length: 25, lineStyle: { color: FRAME, width: 1.2 } },
    };
    yAxis.push({
      ...yBase, position: 'left',
      axisLabel: {
        margin: 15,
        formatter: (v: number) => {
          const e = Math.log10(v);
          const r = Math.round(e);
          if (Math.abs(e - r) > 1e-3) return '';
          return `{b|10}{s|${r}}`;
        },
        rich: {
          b: { fontSize: 30, fontFamily: FONT, color: TXT, padding: [14, 0, 0, 0] },
          s: { fontSize: 20, fontFamily: FONT, color: TXT, padding: [0, 0, 6, 0] },
        },
      },
    });
    yAxis.push({ ...yBase, position: 'right', axisLabel: { show: false } });

    const xi = 2 * i;
    const yi = 2 * i;

    // shaded periods
    series.push({
      type: 'custom', xAxisIndex: xi, yAxisIndex: yi, z: 1, silent: true, clip: true,
      encode: { x: [0, 1], y: 2 },
      data: SHADE_START.map((s, k) => [s, p.shadeEnd[k], Y_MIN]),
      renderItem: (_params: any, api: any) => {
        const a = api.coord([api.value(0), Y_MAX]);
        const b = api.coord([api.value(1), Y_MIN]);
        return {
          type: 'rect',
          shape: { x: a[0], y: a[1], width: b[0] - a[0], height: b[1] - a[1] },
          style: { fill: SHADE, stroke: SHADE_EDGE, lineWidth: 1.5 },
        };
      },
    });

    // model envelope fill
    const band = p.band;
    series.push({
      type: 'custom', xAxisIndex: xi, yAxisIndex: yi, z: 2, silent: true, clip: true,
      data: [[band[0][0], band[0][1]]],
      renderItem: (_params: any, api: any) => {
        const up = band.map((d) => api.coord([d[0], d[2]]));
        const lo = band.map((d) => api.coord([d[0], d[1]])).reverse();
        return { type: 'polygon', shape: { points: up.concat(lo) }, style: { fill: BLUE, stroke: BLUE, lineWidth: 0.5 } };
      },
    });
    // envelope edges
    [2, 1].forEach((k) => {
      series.push({
        type: 'line', xAxisIndex: xi, yAxisIndex: yi, z: 3, silent: true, symbol: 'none',
        lineStyle: { color: EDGE, width: 1.2 },
        data: band.map((d) => [d[0], d[k]]),
      });
    });

    // circles
    series.push({
      type: 'scatter', xAxisIndex: xi, yAxisIndex: yi, z: 4, silent: true,
      symbol: 'circle', symbolSize: 18,
      itemStyle: { color: '#858585', borderColor: '#333333', borderWidth: 1.2 },
      data: p.circles,
    });

    // error bars
    series.push({
      type: 'custom', xAxisIndex: xi, yAxisIndex: yi, z: 5, silent: true, clip: true,
      encode: { x: 0, y: [1, 2] },
      data: p.err,
      renderItem: (_params: any, api: any) => {
        const a = api.coord([api.value(0), api.value(1)]);
        const b = api.coord([api.value(0), api.value(2)]);
        return { type: 'line', shape: { x1: a[0], y1: a[1], x2: b[0], y2: b[1] }, style: { stroke: ORANGE, lineWidth: 1.2 } };
      },
    });

    // diamonds
    series.push({
      type: 'scatter', xAxisIndex: xi, yAxisIndex: yi, z: 6, silent: true,
      symbol: 'diamond', symbolSize: [15, 21],
      itemStyle: { color: 'rgba(242,242,242,0.9)', borderColor: ORANGE, borderWidth: 1.3 },
      data: p.diamonds,
    });

    // minor log ticks (left and right)
    series.push({
      type: 'custom', xAxisIndex: xi, yAxisIndex: yi, z: 10, silent: true, clip: false,
      data: MINOR_TICKS.map((v) => [X_MIN, v]),
      renderItem: (_params: any, api: any) => {
        const l = api.coord([X_MIN, api.value(1)]);
        const r = api.coord([X_MAX, api.value(1)]);
        const st = { stroke: FRAME, lineWidth: 1.2 };
        return {
          type: 'group',
          children: [
            { type: 'line', shape: { x1: l[0], y1: l[1], x2: l[0] + 12, y2: l[1] }, style: st },
            { type: 'line', shape: { x1: r[0] - 12, y1: r[1], x2: r[0], y2: r[1] }, style: st },
          ],
        };
      },
    });

    // title and station label
    graphic.push({
      type: 'text', x: LEFT + PLOT_W / 2, y: top - 21, z: 100, silent: true,
      style: {
        text: `{i|r}{n| = ${R_VALUES[i]}, RE = ${RE_VALUES[i]}}`,
        align: 'center', verticalAlign: 'middle', fontSize: 34, fontFamily: FONT, fill: '#1a1a1a',
        rich: {
          i: { fontStyle: 'italic', fontSize: 34, fontFamily: FONT, fill: '#1a1a1a' },
          n: { fontSize: 34, fontFamily: FONT, fill: '#1a1a1a' },
        },
      },
    });
    graphic.push({
      type: 'text', x: 217, y: top + 19, z: 100, silent: true,
      style: { text: STATIONS[i], fontSize: 30, fontWeight: 'bold', fontFamily: FONT, fill: '#1a1a1a', align: 'left', verticalAlign: 'middle' },
    });
  });

  graphic.push({
    type: 'text', x: 47, y: 802, rotation: Math.PI / 2, z: 100, silent: true,
    style: {
      text: '{a|Chlorophyll-a concentration (}{i|μ}{a|g l}{s|−1}{a|)}',
      align: 'center', verticalAlign: 'middle', fontSize: 31, fontFamily: FONT, fill: TXT,
      rich: {
        a: { fontSize: 31, fontFamily: FONT, fill: TXT },
        i: { fontSize: 31, fontStyle: 'italic', fontFamily: FONT, fill: TXT },
        s: { fontSize: 21, fontFamily: FONT, fill: TXT, padding: [0, 0, 14, 0] },
      },
    },
  });

  return { animation: false, backgroundColor: '#ffffff', grid, xAxis, yAxis, series, graphic };
}

export default function App() {
  const ref = useRef<HTMLDivElement>(null);
  useEffect(() => {
    if (!ref.current) return;
    const chart = echarts.init(ref.current, null, { renderer: 'svg' });
    chart.setOption(buildOption() as any);
    return () => chart.dispose();
  }, []);
  return <div ref={ref} style={{ position: 'absolute', left: 0, top: 0, width: W, height: H, background: '#fff' }} />;
}
